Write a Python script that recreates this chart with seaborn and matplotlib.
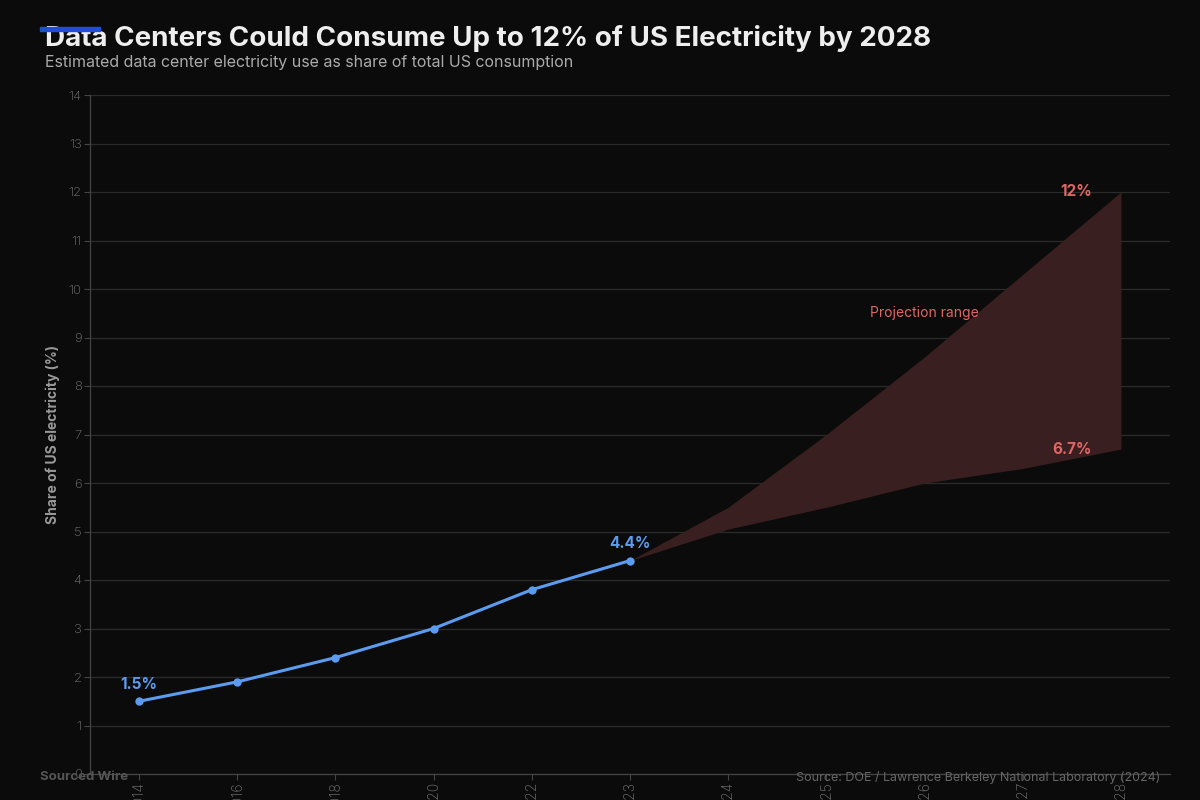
import pandas as pd
import matplotlib.pyplot as plt
import seaborn as sns
import numpy as np

# data
years = ["2014", "2016", "2018", "2020", "2022", "2023", "2024", "2025", "2026", "2027", "2028"]
hist_years = ["2014", "2016", "2018", "2020", "2022", "2023"]
hist_share = [1.5, 1.9, 2.4, 3.0, 3.8, 4.4]
proj_years = ["2023", "2024", "2025", "2026", "2027", "2028"]
proj_low = [4.4, 5.05, 5.5, 6.0, 6.3, 6.7]
proj_high = [4.4, 5.5, 7.0, 8.6, 10.3, 12.0]

bg = "#0b0b0b"
blue = "#5b9cf0"
red = "#e06565"

sns.set_theme(style="dark")
plt.rcParams["font.family"] = ["Inter", "DejaVu Sans"]

fig = plt.figure(figsize=(12, 8), dpi=100, facecolor=bg)
ax = fig.add_axes([0.075, 0.0325, 0.9, 0.84875])
ax.set_facecolor(bg)

pos = {y: i for i, y in enumerate(years)}
hist = pd.DataFrame({"x": [pos[y] for y in hist_years], "share": hist_share})
proj = pd.DataFrame({"x": [pos[y] for y in proj_years], "low": proj_low, "high": proj_high})

ax.fill_between(proj["x"], proj["low"], proj["high"], color="#3a1f20", lw=0, zorder=1)
sns.lineplot(data=hist, x="x", y="share", ax=ax, color=blue, lw=2.2, marker="o",
             markersize=6, markeredgewidth=0, zorder=3)

ax.set_xlim(-0.5, len(years) - 0.5)
ax.set_ylim(0, 14)
ax.set_yticks(range(0, 15))
ax.set_xticks(range(len(years)))
ax.set_xticklabels(years, rotation=90)
ax.tick_params(axis="both", colors="#444444", labelcolor="#777777", labelsize=9.5, length=4, width=0.8,
               left=True, bottom=True, pad=2)
ax.tick_params(axis="x", pad=1, labelsize=10)
for lbl in ax.get_xticklabels() + ax.get_yticklabels():
    lbl.set_fontweight("light")
ax.grid(axis="y", color="#2b2b2b", lw=0.9)
ax.grid(axis="x", visible=False)
for side in ["top", "right"]:
    ax.spines[side].set_visible(False)
for side in ["left", "bottom"]:
    ax.spines[side].set_color("#444444")
    ax.spines[side].set_linewidth(0.9)
ax.set_xlabel("")
ax.set_ylabel("Share of US electricity (%)", color="#999999", fontsize=10, fontweight="bold")
ax.yaxis.set_label_coords(-0.028, 0.5)

# value labels
ax.annotate(f"{hist_share[0]}%", (0, hist_share[0]), xytext=(0, 7), textcoords="offset points",
            ha="center", va="bottom", color=blue, fontsize=11, fontweight="bold")
ax.annotate(f"{hist_share[-1]}%", (pos["2023"], hist_share[-1]), xytext=(0, 7), textcoords="offset points",
            ha="center", va="bottom", color=blue, fontsize=11, fontweight="bold")
ax.annotate(f"{proj_high[-1]:g}%", (pos["2028"], proj_high[-1]), xytext=(-21, 0), textcoords="offset points",
            ha="right", va="center", color=red, fontsize=11, fontweight="bold")
ax.annotate(f"{proj_low[-1]}%", (pos["2028"], proj_low[-1]), xytext=(-21, 0), textcoords="offset points",
            ha="right", va="center", color=red, fontsize=11, fontweight="bold")
ax.text(pos["2026"], 9.5, "Projection range", ha="center", va="center", color=red, fontsize=10)

# title block
fig.patches.append(plt.Rectangle((40 / 1200, 1 - 31 / 800), 60 / 1200, 4 / 800, transform=fig.transFigure,
                                 color="#1e4fd8", zorder=5))
fig.text(45 / 1200, 1 - 38 / 800, "Data Centers Could Consume Up to 12% of US Electricity by 2028",
         ha="left", va="center", color="#eeeeee", fontsize=20, fontweight="bold")
fig.text(45 / 1200, 1 - 63 / 800, "Estimated data center electricity use as share of total US consumption",
         ha="left", va="center", color="#aaaaaa", fontsize=11.5)
fig.text(40 / 1200, 1 - 777 / 800, "Sourced Wire", ha="left", va="center", color="#555555",
         fontsize=9.5, fontweight="bold")
fig.text(1160 / 1200, 1 - 777 / 800, "Source: DOE / Lawrence Berkeley National Laboratory (2024)",
         ha="right", va="center", color="#666666", fontsize=9)

fig.savefig("out.png", dpi=100, facecolor=bg)
